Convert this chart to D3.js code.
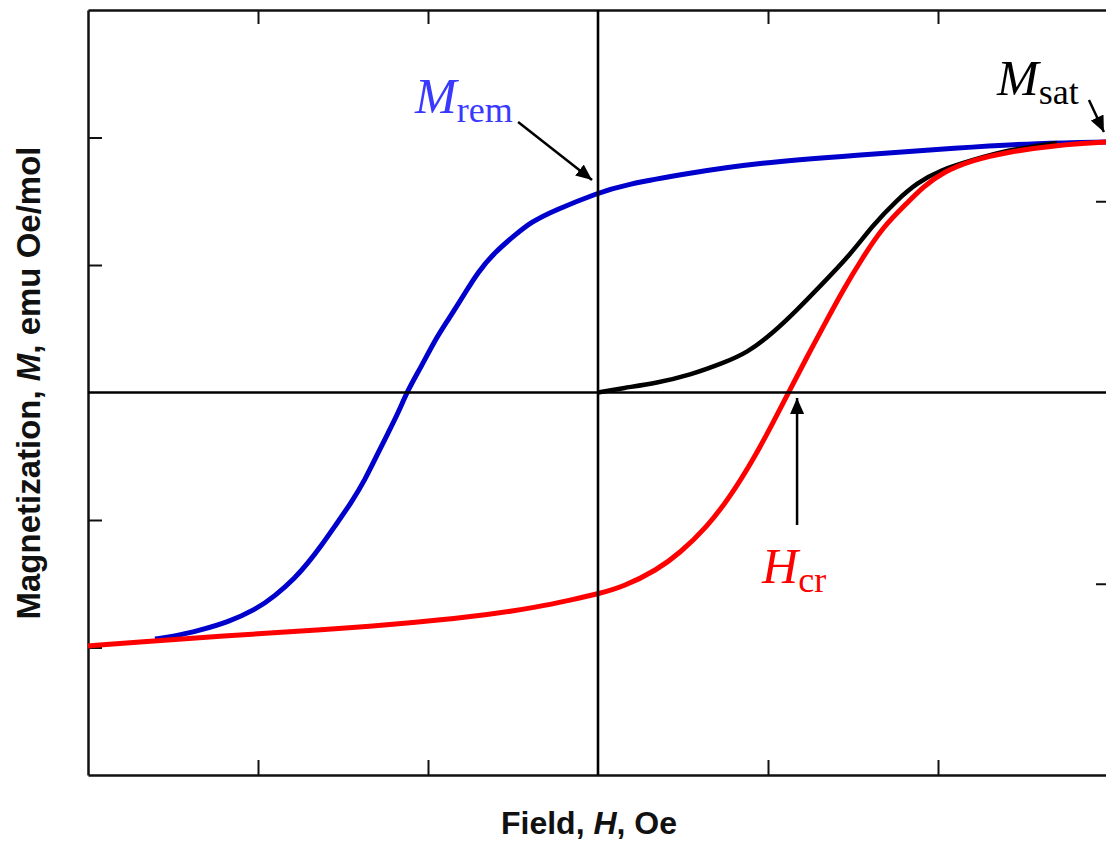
<!DOCTYPE html>
<html>
<head>
    <title>Hysteresis Loop</title>
    <script src="https://d3js.org/d3.v7.min.js"></script>
    <style>
        body {
            margin: 0;
            background-color: #ffffff;
        }
    </style>
</head>
<body>
    <script>
        // Field H and magnetization M (plot units, ticks at +-1, +-2)
        const blueH = [-2.606, -2.512, -2.335, -2.176, -2.018, -1.900, -1.782, -1.706, -1.629, -1.547, -1.453, -1.371, -1.294, -1.235, -1.176, -1.118, -1.041, -0.959, -0.882, -0.782, -0.706, -0.606, -0.488, -0.394, -0.253, 0, 0.147, 0.541, 0.935, 1.524, 2.112, 2.600, 2.988];
        const blueM = [-1.933, -1.918, -1.863, -1.800, -1.706, -1.596, -1.455, -1.337, -1.204, -1.047, -0.867, -0.686, -0.475, -0.318, -0.161, 0.020, 0.200, 0.412, 0.569, 0.780, 0.945, 1.102, 1.235, 1.337, 1.431, 1.565, 1.627, 1.722, 1.800, 1.863, 1.918, 1.957, 1.965];

        const redH = [-3.0, -2.706, -2.218, -1.629, -1.041, -0.647, -0.353, -0.159, 0, 0.147, 0.347, 0.482, 0.641, 0.776, 0.912, 1.029, 1.129, 1.229, 1.324, 1.441, 1.559, 1.676, 1.818, 1.912, 2.029, 2.206, 2.406, 2.700, 2.988];
        const redM = [-1.988, -1.957, -1.910, -1.863, -1.800, -1.745, -1.682, -1.627, -1.580, -1.525, -1.392, -1.259, -1.055, -0.820, -0.529, -0.239, 0.020, 0.278, 0.514, 0.804, 1.063, 1.298, 1.486, 1.612, 1.729, 1.824, 1.886, 1.941, 1.965];

        const blackH = [0, 0.147, 0.347, 0.541, 0.735, 0.876, 1.029, 1.171, 1.324, 1.482, 1.618, 1.759, 1.876, 2.012, 2.206, 2.406, 2.700];
        const blackM = [0.0, 0.035, 0.075, 0.137, 0.231, 0.310, 0.467, 0.647, 0.859, 1.078, 1.314, 1.510, 1.643, 1.745, 1.824, 1.902, 1.957];

        const xTicks = [-2, -1, 1, 2];
        const yTicks = [-2, -1, 1, 2];
        const yRightTicks = [-1, 1];

        // annotations: label, subscript, colour, text position, arrow start, arrow tip
        const notes = [
            {main: "M", sub: "rem", color: "#3a3aff", tx: -1.076, ty: 2.192, x1: -0.47, y1: 2.122, x2: -0.035, y2: 1.667},
            {main: "M", sub: "sat", color: "#000000", tx: 2.347, ty: 2.330, x1: 2.888, y1: 2.294, x2: 2.976, y2: 2.043},
            {main: "H", sub: "cr", color: "#ff0000", tx: 0.965, ty: -1.494, x1: 1.171, y1: -1.039, x2: 1.171, y2: -0.043}
        ];

        const margin = {top: 10, right: -2, bottom: 71, left: 88},
            width = 1106 - margin.left - margin.right,
            height = 846 - margin.top - margin.bottom;

        const svg = d3.select("body").append("svg")
            .attr("width", 1106)
            .attr("height", 846)
            .append("g")
            .attr("transform", "translate(" + margin.left + "," + margin.top + ")");

        const x = d3.scaleLinear().domain([-3, 3]).range([0, width]);
        const y = d3.scaleLinear().domain([-3, 3]).range([height, 0]);
        const yRight = d3.scaleLinear().domain([-2, 2]).range([height, 0]);

        // frame axes, ticks pointing inwards, no labels
        svg.append("g")
            .attr("class", "axis")
            .attr("transform", "translate(0," + height + ")")
            .call(d3.axisBottom(x).tickValues(xTicks).tickSizeInner(-15).tickSizeOuter(0).tickFormat(""));
        svg.append("g")
            .attr("class", "axis")
            .call(d3.axisTop(x).tickValues(xTicks).tickSizeInner(-14).tickSizeOuter(0).tickFormat(""));
        svg.append("g")
            .attr("class", "axis")
            .call(d3.axisLeft(y).tickValues(yTicks).tickSizeInner(-14).tickSizeOuter(0).tickFormat(""));
        svg.append("g")
            .attr("class", "axis")
            .attr("transform", "translate(" + width + ",0)")
            .call(d3.axisRight(yRight).tickValues(yRightTicks).tickSizeInner(-12).tickSizeOuter(0).tickFormat(""));

        svg.selectAll(".axis path").style("stroke", "#111").style("stroke-width", 2.5);
        svg.selectAll(".axis line").style("stroke", "#111").style("stroke-width", 2);

        // curves
        const line = d3.line()
            .x(d => x(d[0]))
            .y(d => y(d[1]))
            .curve(d3.curveBasis);

        const curves = [
            {h: blueH, m: blueM, color: "#0000cc", w: 5},
            {h: blackH, m: blackM, color: "#000000", w: 4.5},
            {h: redH, m: redM, color: "#ff0000", w: 5}
        ];

        curves.forEach(function (c) {
            svg.append("path")
                .datum(d3.zip(c.h, c.m))
                .attr("d", line)
                .style("fill", "none")
                .style("stroke", c.color)
                .style("stroke-width", c.w);
        });

        // zero lines, drawn over the curves
        svg.append("line")
            .attr("x1", x(-3)).attr("x2", x(3))
            .attr("y1", y(0)).attr("y2", y(0))
            .style("stroke", "#000").style("stroke-width", 2.6);
        svg.append("line")
            .attr("x1", x(0)).attr("x2", x(0))
            .attr("y1", y(-3)).attr("y2", y(3))
            .style("stroke", "#000").style("stroke-width", 2.6);

        // arrowhead
        svg.append("defs").append("marker")
            .attr("id", "arrow")
            .attr("markerUnits", "userSpaceOnUse")
            .attr("viewBox", "0 0 16 14")
            .attr("refX", 16)
            .attr("refY", 7)
            .attr("markerWidth", 16)
            .attr("markerHeight", 14)
            .attr("orient", "auto")
            .append("path")
            .attr("d", "M0,0 L16,7 L0,14 Z")
            .style("fill", "#000");

        notes.forEach(function (n) {
            svg.append("line")
                .attr("x1", x(n.x1)).attr("y1", y(n.y1))
                .attr("x2", x(n.x2)).attr("y2", y(n.y2))
                .style("stroke", "#000")
                .style("stroke-width", 2.5)
                .attr("marker-end", "url(#arrow)");

            const t = svg.append("text")
                .attr("x", x(n.tx))
                .attr("y", y(n.ty))
                .style("font-family", "'Liberation Serif', 'Times New Roman', serif")
                .style("fill", n.color);
            t.append("tspan")
                .style("font-style", "italic")
                .style("font-size", "50px")
                .text(n.main);
            t.append("tspan")
                .attr("dy", 9)
                .style("font-size", "36px")
                .text(n.sub);
        });

        // axis titles
        const xTitle = svg.append("text")
            .attr("x", 501)
            .attr("y", height + 59)
            .style("text-anchor", "middle")
            .style("font-family", "'Liberation Sans', Arial, sans-serif")
            .style("font-weight", "bold")
            .style("font-size", "32px")
            .style("fill", "#111");
        xTitle.append("tspan").text("Field, ");
        xTitle.append("tspan").style("font-style", "italic").text("H");
        xTitle.append("tspan").text(", Oe");

        const yTitle = svg.append("text")
            .attr("transform", "translate(" + (40 - margin.left) + "," + (383 - margin.top) + ") rotate(-90)")
            .style("text-anchor", "middle")
            .style("font-family", "'Liberation Sans', Arial, sans-serif")
            .style("font-weight", "bold")
            .style("font-size", "33px")
            .style("fill", "#111");
        yTitle.append("tspan").text("Magnetization, ");
        yTitle.append("tspan").style("font-style", "italic").text("M");
        yTitle.append("tspan").text(", emu Oe/mol");
    </script>
</body>
</html>
